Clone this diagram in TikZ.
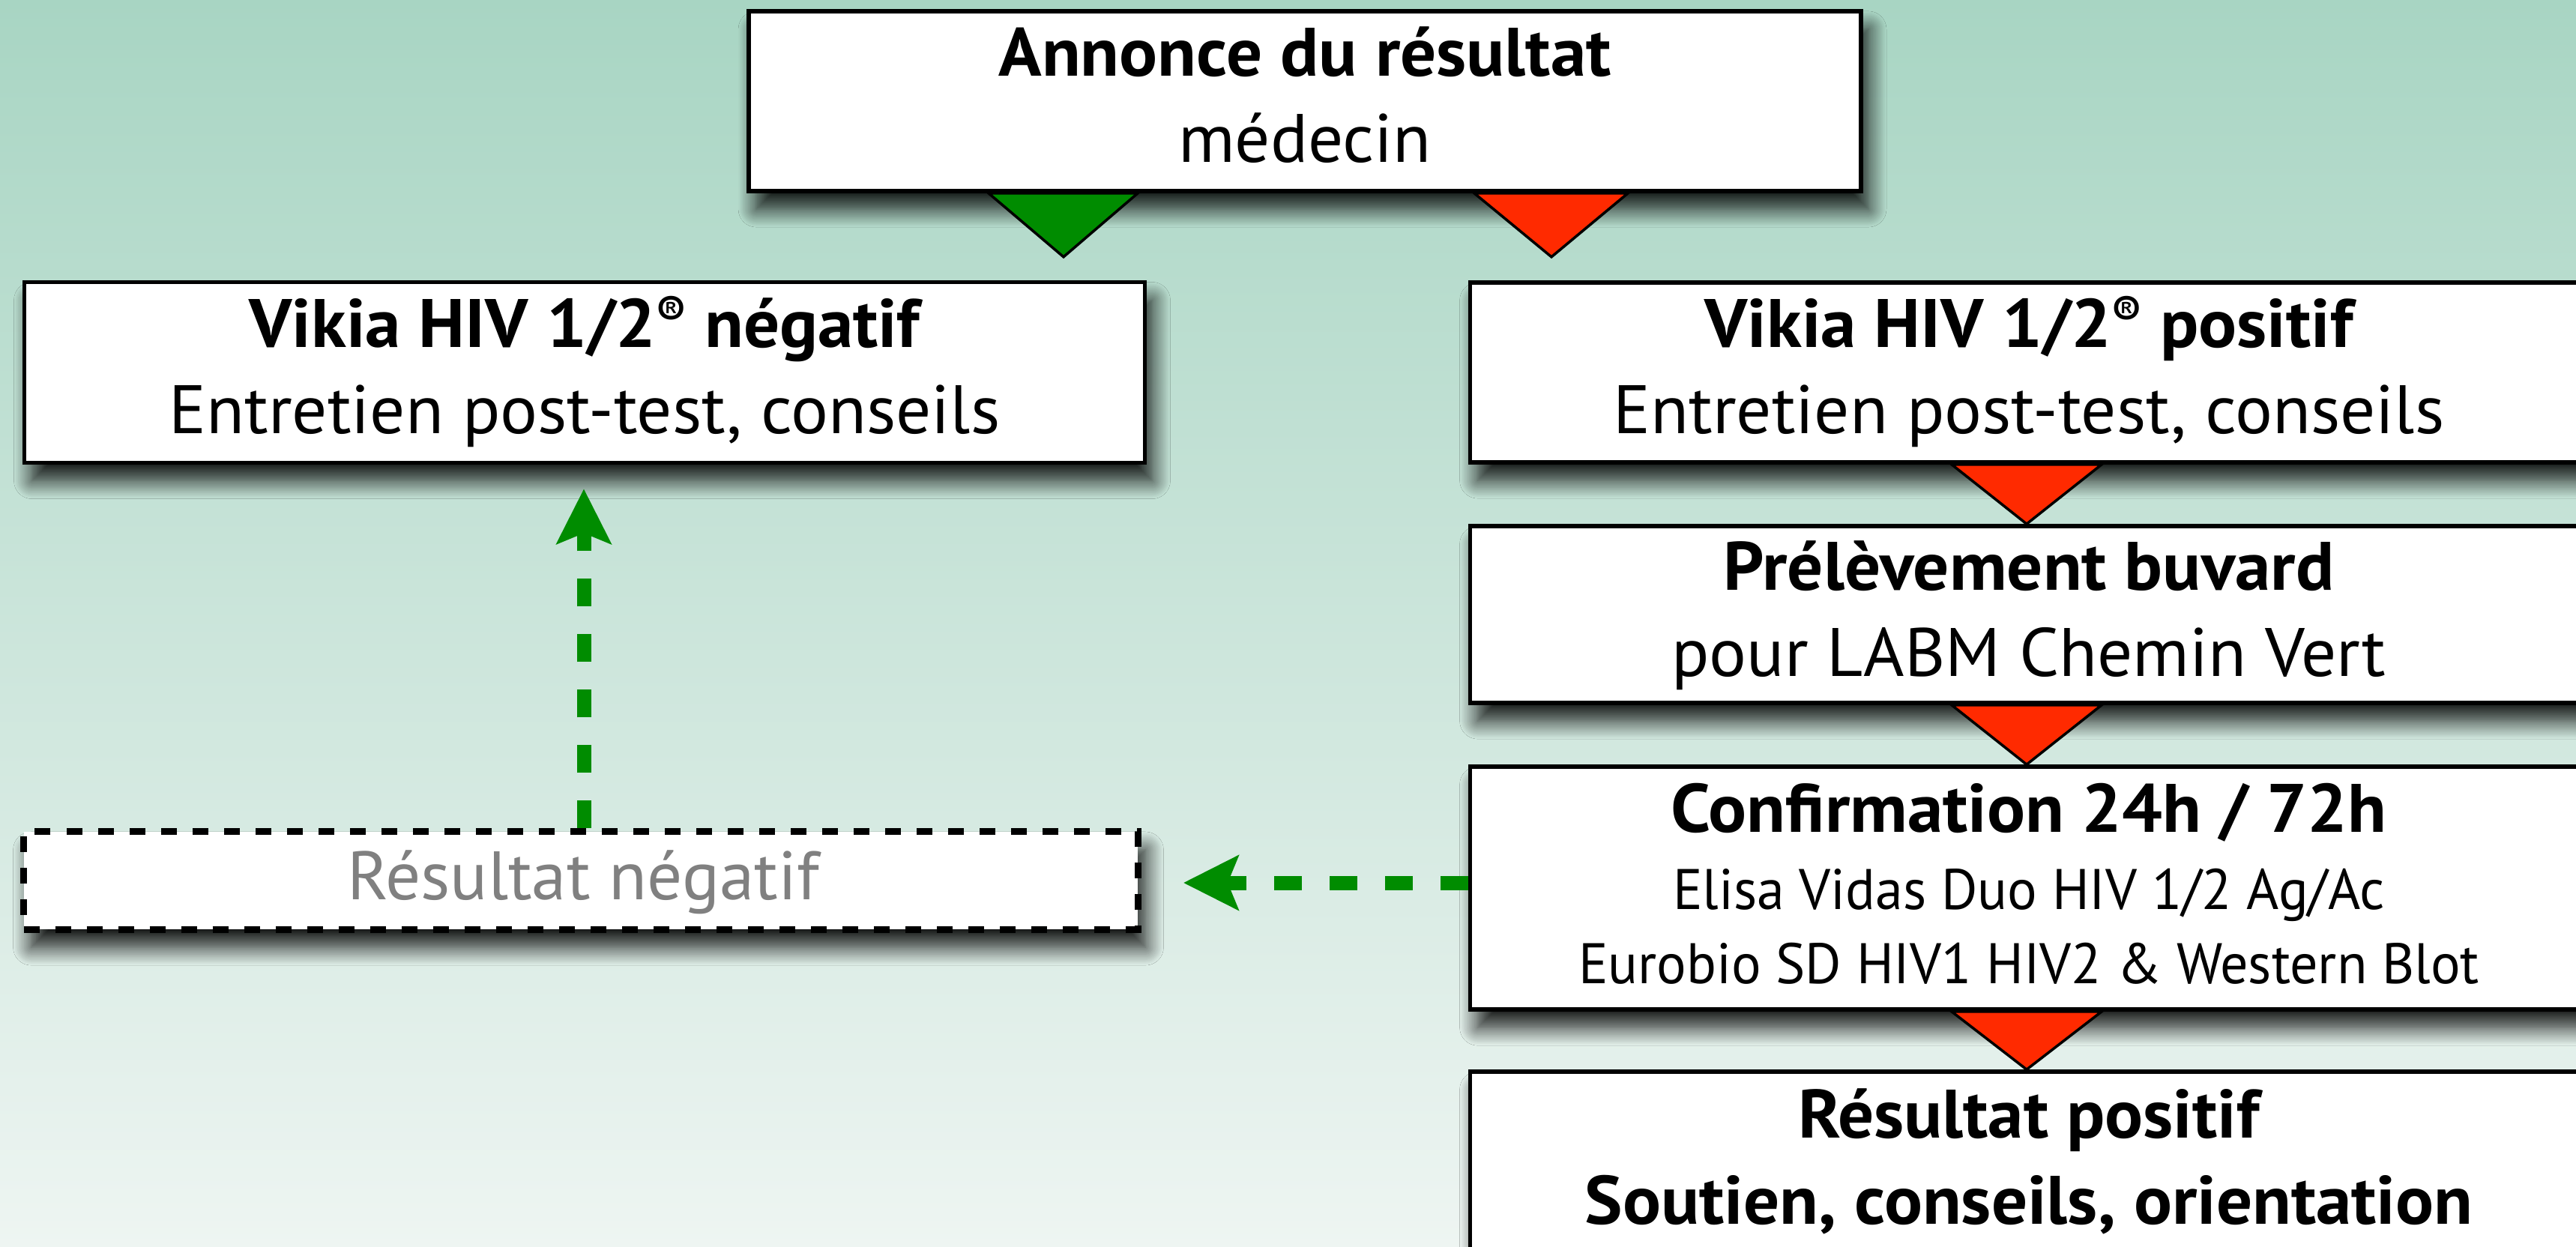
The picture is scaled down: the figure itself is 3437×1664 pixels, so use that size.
\documentclass[tikz,border=0pt]{standalone}
\usepackage{fontspec}
\setmainfont{PT Sans}[FakeStretch=1.02, BoldFeatures={FakeStretch=1.04}]
\newfontfamily\smallfam{PT Sans}[FakeStretch=0.97]
\usetikzlibrary{arrows.meta,shadows.blur,calc}
\definecolor{bgtop}{RGB}{168,213,195}
\definecolor{bgbot}{RGB}{238,245,242}
\definecolor{arrgreen}{RGB}{0,140,0}
\definecolor{arrred}{RGB}{255,42,0}
\definecolor{txtgray}{RGB}{128,128,128}
\newcommand\bigtxt{\fontsize{26}{30}\selectfont}
\newcommand\smalltxt{\smallfam\fontsize{21.7}{26}\selectfont}
\newcommand\regmark{\raisebox{7.5pt}{\fontsize{16}{16}\selectfont ®}}
\begin{document}
\begin{tikzpicture}[x=0.01cm,y=-0.01cm,
  flowbox/.style={draw=black, line width=0.055cm, fill=white, inner sep=0pt,
    blur shadow={shadow xshift=0.1cm, shadow yshift=-0.24cm, shadow blur radius=0.24cm, shadow blur steps=14, shadow opacity=90}},
  dashbox/.style={flowbox, line width=0.09cm, dash pattern=on 0.21cm off 0.21cm},
  txt/.style={anchor=base, inner sep=0pt, font=\bigtxt},
  btxt/.style={txt, font=\bigtxt\bfseries},
  stxt/.style={txt, font=\smalltxt},
  trigreen/.style={draw=black, line width=0.035cm, fill=arrgreen, line join=miter},
  trired/.style={draw=black, line width=0.035cm, fill=arrred, line join=miter},
  garrow/.style={draw=arrgreen, line width=0.19cm, dash pattern=on 0.37cm off 0.37cm,
    -{Stealth[length=0.73cm, width=0.72cm, inset=0.14cm]}}
]
\useasboundingbox (0,0) rectangle (3437,1664);
\shade[top color=bgtop, bottom color=bgbot] (0,0) rectangle (3437,1664);

% boxes
\node[flowbox, minimum width=14.83cm, minimum height=2.40cm] (top) at (1741,135) {};
\node[flowbox, minimum width=14.94cm, minimum height=2.41cm] (vneg) at (780,497) {};
\node[flowbox, minimum width=14.90cm, minimum height=2.40cm] (vpos) at (2707,497) {};
\node[flowbox, minimum width=14.90cm, minimum height=2.36cm] (prel) at (2707,820) {};
\node[flowbox, minimum width=14.90cm, minimum height=3.24cm] (conf) at (2707,1185) {};
\node[flowbox, minimum width=14.90cm, minimum height=3.40cm] (rpos) at (2707,1600) {};
\node[dashbox, minimum width=14.86cm, minimum height=1.30cm] (rneg) at (775,1175) {};

% texts
\node[btxt] (topA) at (1741,102) {Annonce du résultat};
\node[txt] (topB) at (1741,217) {médecin};
\node[btxt] (vnegA) at (780,463) {Vikia HIV 1/2\regmark\ négatif};
\node[txt] (vnegB) at (780,578) {Entretien post-test, conseils};
\node[btxt] (vposA) at (2707,463) {Vikia HIV 1/2\regmark\ positif};
\node[txt] (vposB) at (2707,578) {Entretien post-test, conseils};
\node[btxt] (prelA) at (2707,787) {Prélèvement buvard};
\node[txt] (prelB) at (2707,902) {pour LABM Chemin Vert};
\node[btxt] (confA) at (2707,1110) {Confirmation 24h / 72h};
\node[stxt] (confB) at (2707,1213) {Elisa Vidas Duo HIV 1/2 Ag/Ac};
\node[stxt] (confC) at (2707,1312) {Eurobio SD HIV1 HIV2 \& Western Blot};
\node[btxt] (rposA) at (2707,1518) {Résultat positif};
\node[btxt] (rposB) at (2707,1633) {Soutien, conseils, orientation};
\node[txt, text=txtgray] (rnegA) at (778,1200) {Résultat négatif};

% triangles
\draw[trigreen] ($(top.south)+(-422,0)$) -- ($(top.south)+(-322,85)$) -- ($(top.south)+(-223,0)$) -- cycle;
\draw[trired] ($(top.south)+(226,0)$) -- ($(top.south)+(329,85)$) -- ($(top.south)+(431,0)$) -- cycle;
\draw[trired] ($(vpos.south)+(-103,0)$) -- ($(prel.north)+(-3,0)$) -- ($(vpos.south)+(97,0)$) -- cycle;
\draw[trired] ($(prel.south)+(-103,0)$) -- ($(conf.north)+(-3,0)$) -- ($(prel.south)+(97,0)$) -- cycle;
\draw[trired] ($(conf.south)+(-103,0)$) -- ($(rpos.north)+(-3,0)$) -- ($(conf.south)+(97,0)$) -- cycle;

% green dashed arrows
\coordinate (uptip) at ($(vneg.south)+(-1,32)$);
\draw[garrow] (uptip |- rneg.north) -- (uptip);
\coordinate (lefttip) at ($(rneg.east)+(56,3)$);
\draw[garrow] (lefttip -| conf.west) -- (lefttip);
\end{tikzpicture}
\end{document}
